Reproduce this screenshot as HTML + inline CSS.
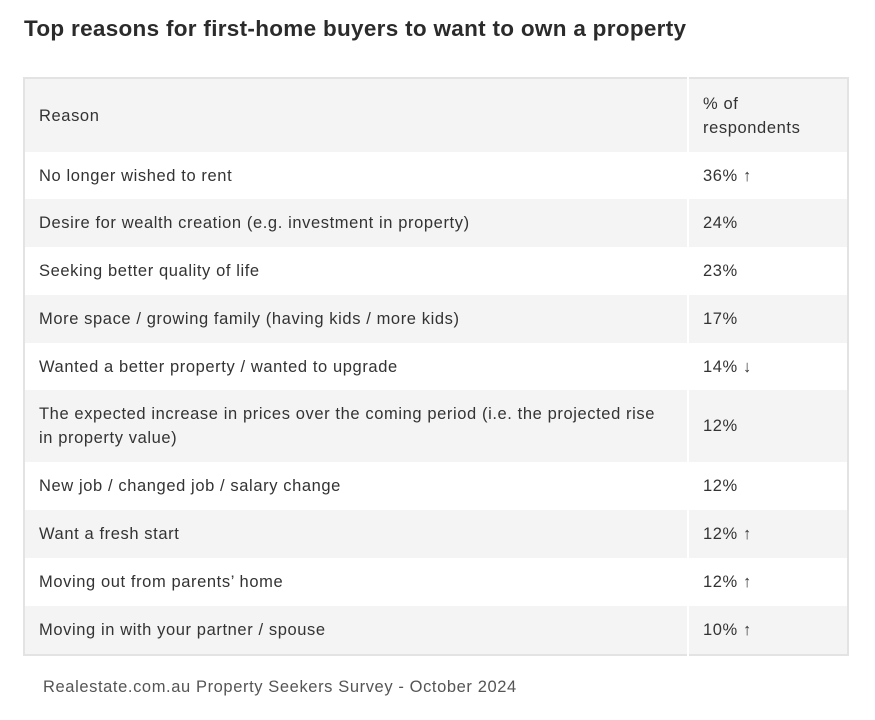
<!DOCTYPE html>
<html><head><meta charset="utf-8"><style>
body{margin:0;width:875px;height:720px;background:#fff;font-family:"Liberation Sans",sans-serif;color:#333;position:relative;overflow:hidden}
h1{position:absolute;left:24px;top:16px;margin:0;font-size:22.5px;font-weight:bold;color:#2b2b2b;letter-spacing:0.3px}
table{position:absolute;left:23px;top:77px;width:826px;border-collapse:collapse;border:2px solid #e3e3e3;font-size:16.5px;letter-spacing:0.6px}
td{padding:0 14px;border-right:2px solid #fff;vertical-align:middle;line-height:24px}
td:last-child{border-right:none;width:130px}
tr.g{background:#f4f4f4}
.src{position:absolute;left:43px;top:678px;font-size:16.5px;letter-spacing:0.6px;color:#555}
</style></head><body>
<h1>Top reasons for first-home buyers to want to own a property</h1>
<table>
<tr class="g" style="height:74px"><td>Reason</td><td>% of<br>respondents</td></tr>
<tr style="height:47px"><td>No longer wished to rent</td><td>36% ↑</td></tr>
<tr class="g" style="height:48px"><td>Desire for wealth creation (e.g. investment in property)</td><td>24%</td></tr>
<tr style="height:48px"><td>Seeking better quality of life</td><td>23%</td></tr>
<tr class="g" style="height:48px"><td>More space / growing family (having kids / more kids)</td><td>17%</td></tr>
<tr style="height:47px"><td>Wanted a better property / wanted to upgrade</td><td>14% ↓</td></tr>
<tr class="g" style="height:72px"><td>The expected increase in prices over the coming period (i.e. the projected rise in property value)</td><td>12%</td></tr>
<tr style="height:48px"><td>New job / changed job / salary change</td><td>12%</td></tr>
<tr class="g" style="height:48px"><td>Want a fresh start</td><td>12% ↑</td></tr>
<tr style="height:48px"><td>Moving out from parents’ home</td><td>12% ↑</td></tr>
<tr class="g" style="height:49px"><td>Moving in with your partner / spouse</td><td>10% ↑</td></tr>
</table>
<div class="src">Realestate.com.au Property Seekers Survey - October 2024</div>
</body></html>
